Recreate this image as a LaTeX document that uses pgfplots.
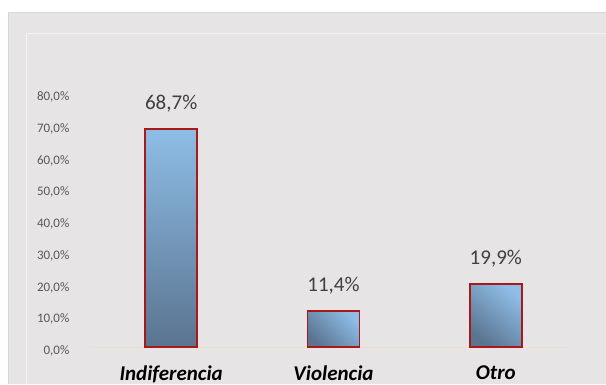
\documentclass[border=0pt]{standalone}
\usepackage{pgfplots}
\pgfplotsset{compat=1.18}
\usepackage{fontspec}
\setmainfont{Carlito}
\definecolor{bgc}{HTML}{E6E4E5}
\definecolor{bgedge}{HTML}{D6D6D6}
\definecolor{barlight}{HTML}{8EBDE6}
\definecolor{bardark}{HTML}{5A7490}
\definecolor{barline}{HTML}{A81A1A}
\definecolor{basec}{HTML}{F2DCCB}
\definecolor{tickc}{HTML}{595959}
\definecolor{labc}{HTML}{404040}
\begin{document}
\begin{tikzpicture}[x=1pt,y=1pt]
\useasboundingbox (-90,-37) rectangle (516,347);
\fill[white] (-90,-37) rectangle (516,347);
\fill[bgedge] (-82,-37) rectangle (516,335);
\fill[bgc] (-81,-37) rectangle (516,334);
\draw[white!50!bgc, line width=0.5pt] (-64,-37) -- (-64,314) -- (516,314);
\begin{axis}[
  at={(0,0)}, anchor=south west,
  scale only axis, width=487pt, height=254pt,
  xmin=-0.5, xmax=2.5, ymin=0, ymax=80,
  axis lines=left, axis line style={draw=none},
  ybar, bar width=52pt,
  xtick={0,1,2}, xticklabels={Indiferencia,Violencia,Otro},
  ytick={0,10,...,80},
  /pgf/number format/assume math mode=true,
  yticklabel={\pgfmathprintnumber[fixed,fixed zerofill,precision=1,use comma]{\tick}\%},
  yticklabel style={font=\fontsize{13}{15}\selectfont, text=tickc, xshift=-15pt, yshift=-4pt, anchor=east},
  xticklabel style={font=\fontsize{21}{24}\selectfont\bfseries\itshape, text=black, yshift=-11pt},
  tick style={draw=none},
  clip=false,
  nodes near coords={\pgfmathprintnumber[fixed,fixed zerofill,precision=1,use comma]{\pgfplotspointmeta}\%},
  nodes near coords style={font=\fontsize{21}{24}\selectfont, text=labc, yshift=12pt},
]
\draw[basec, line width=0.8pt] (axis cs:-0.5,0) -- (axis cs:2.45,0);
\addplot[draw=barline, line width=1.8pt, top color=barlight, bottom color=bardark, bar shift=0pt]
  coordinates {(0,68.7)};
\addplot[draw=barline, line width=1.8pt, top color=barlight, bottom color=bardark, shading angle=-45, bar shift=0pt]
  coordinates {(1,11.4)};
\addplot[draw=barline, line width=1.8pt, top color=barlight, bottom color=bardark, shading angle=-40, bar shift=0pt]
  coordinates {(2,19.9)};
\end{axis}
\end{tikzpicture}
\end{document}
